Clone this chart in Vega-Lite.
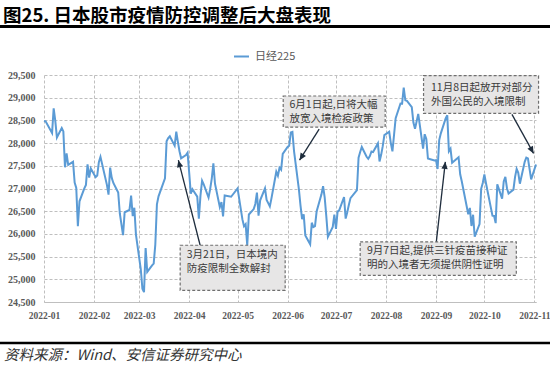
{
  "$schema": "https://vega.github.io/schema/vega-lite/v6.json",
  "width": 492,
  "height": 227,
  "autosize": {"type": "none"},
  "padding": {"left": 44, "top": 75, "right": 14, "bottom": 67},
  "background": "white",
  "title": {
    "text": "图25. 日本股市疫情防控调整后大盘表现",
    "anchor": "start",
    "frame": "group",
    "font": "Noto Sans CJK SC",
    "fontSize": 18.5,
    "fontWeight": "bold",
    "color": "#000000",
    "dx": -41,
    "offset": -1
  },
  "config": {
    "view": {"stroke": null},
    "axis": {
      "gridColor": "#bfbfbf",
      "gridDash": [3, 2],
      "gridWidth": 1,
      "labelColor": "#595959",
      "labelFont": "Liberation Serif",
      "labelFontWeight": "bold",
      "ticks": false
    }
  },
  "datasets": {
    "nikkei": [
      {"x": "2022-01-06", "y": 28487.87}, {"x": "2022-01-07", "y": 28478.56}, {"x": "2022-01-11", "y": 28222.48}, {"x": "2022-01-12", "y": 28765.66}, {"x": "2022-01-13", "y": 28489.13}, {"x": "2022-01-14", "y": 28124.28}, {"x": "2022-01-17", "y": 28333.52}, {"x": "2022-01-18", "y": 28257.25}, {"x": "2022-01-19", "y": 27467.23}, {"x": "2022-01-20", "y": 27772.93}, {"x": "2022-01-21", "y": 27522.26}, {"x": "2022-01-24", "y": 27588.37}, {"x": "2022-01-25", "y": 27131.34}, {"x": "2022-01-26", "y": 27011.33}, {"x": "2022-01-27", "y": 26170.30}, {"x": "2022-01-28", "y": 26717.34}, {"x": "2022-01-31", "y": 27001.98},
      {"x": "2022-02-01", "y": 27078.48}, {"x": "2022-02-02", "y": 27533.60}, {"x": "2022-02-03", "y": 27241.31}, {"x": "2022-02-04", "y": 27439.99}, {"x": "2022-02-07", "y": 27248.87}, {"x": "2022-02-08", "y": 27284.52}, {"x": "2022-02-09", "y": 27579.87}, {"x": "2022-02-10", "y": 27696.08}, {"x": "2022-02-14", "y": 27079.59}, {"x": "2022-02-15", "y": 26865.19}, {"x": "2022-02-16", "y": 27460.40}, {"x": "2022-02-17", "y": 27232.87}, {"x": "2022-02-18", "y": 27122.07}, {"x": "2022-02-21", "y": 26910.87}, {"x": "2022-02-22", "y": 26449.61}, {"x": "2022-02-24", "y": 25970.82}, {"x": "2022-02-25", "y": 26476.50}, {"x": "2022-02-28", "y": 26526.82},
      {"x": "2022-03-01", "y": 26844.72}, {"x": "2022-03-02", "y": 26393.03}, {"x": "2022-03-03", "y": 26577.27}, {"x": "2022-03-04", "y": 25985.47}, {"x": "2022-03-07", "y": 25221.41}, {"x": "2022-03-08", "y": 24790.95}, {"x": "2022-03-09", "y": 24717.53}, {"x": "2022-03-10", "y": 25690.40}, {"x": "2022-03-11", "y": 25162.78}, {"x": "2022-03-14", "y": 25307.85}, {"x": "2022-03-15", "y": 25346.48}, {"x": "2022-03-16", "y": 25762.01}, {"x": "2022-03-17", "y": 26652.89}, {"x": "2022-03-18", "y": 26827.43}, {"x": "2022-03-22", "y": 27224.11}, {"x": "2022-03-23", "y": 28040.16}, {"x": "2022-03-24", "y": 28110.39}, {"x": "2022-03-25", "y": 28149.84}, {"x": "2022-03-28", "y": 27943.89}, {"x": "2022-03-29", "y": 28252.42}, {"x": "2022-03-30", "y": 28027.25}, {"x": "2022-03-31", "y": 27821.43},
      {"x": "2022-04-01", "y": 27665.98}, {"x": "2022-04-04", "y": 27736.47}, {"x": "2022-04-05", "y": 27787.98}, {"x": "2022-04-06", "y": 27350.30}, {"x": "2022-04-07", "y": 26888.57}, {"x": "2022-04-08", "y": 26985.80}, {"x": "2022-04-11", "y": 26821.52}, {"x": "2022-04-12", "y": 26334.98}, {"x": "2022-04-13", "y": 26843.49}, {"x": "2022-04-14", "y": 27172.00}, {"x": "2022-04-15", "y": 27093.19}, {"x": "2022-04-18", "y": 26799.71}, {"x": "2022-04-19", "y": 26985.09}, {"x": "2022-04-20", "y": 27217.85}, {"x": "2022-04-21", "y": 27553.06}, {"x": "2022-04-22", "y": 27105.26}, {"x": "2022-04-25", "y": 26590.78}, {"x": "2022-04-26", "y": 26700.11}, {"x": "2022-04-27", "y": 26386.63}, {"x": "2022-04-28", "y": 26847.90},
      {"x": "2022-05-02", "y": 26818.53}, {"x": "2022-05-06", "y": 27003.56}, {"x": "2022-05-09", "y": 26319.34}, {"x": "2022-05-10", "y": 26167.10}, {"x": "2022-05-11", "y": 26213.64}, {"x": "2022-05-12", "y": 25748.72}, {"x": "2022-05-13", "y": 26427.65}, {"x": "2022-05-16", "y": 26547.05}, {"x": "2022-05-17", "y": 26659.75}, {"x": "2022-05-18", "y": 26911.20}, {"x": "2022-05-19", "y": 26402.84}, {"x": "2022-05-20", "y": 26739.03}, {"x": "2022-05-23", "y": 27001.52}, {"x": "2022-05-24", "y": 26748.14}, {"x": "2022-05-25", "y": 26677.80}, {"x": "2022-05-26", "y": 26604.84}, {"x": "2022-05-27", "y": 26781.68}, {"x": "2022-05-30", "y": 27369.43}, {"x": "2022-05-31", "y": 27279.80},
      {"x": "2022-06-01", "y": 27457.89}, {"x": "2022-06-02", "y": 27413.88}, {"x": "2022-06-03", "y": 27761.57}, {"x": "2022-06-06", "y": 27915.89}, {"x": "2022-06-07", "y": 27943.95}, {"x": "2022-06-08", "y": 28234.29}, {"x": "2022-06-09", "y": 28246.53}, {"x": "2022-06-10", "y": 27824.29}, {"x": "2022-06-13", "y": 26987.44}, {"x": "2022-06-14", "y": 26629.86}, {"x": "2022-06-15", "y": 26326.16}, {"x": "2022-06-16", "y": 26431.20}, {"x": "2022-06-17", "y": 25963.00}, {"x": "2022-06-20", "y": 25771.22}, {"x": "2022-06-21", "y": 26246.31}, {"x": "2022-06-22", "y": 26149.55}, {"x": "2022-06-23", "y": 26171.25}, {"x": "2022-06-24", "y": 26491.97}, {"x": "2022-06-27", "y": 26871.27}, {"x": "2022-06-28", "y": 27049.47}, {"x": "2022-06-29", "y": 26804.60}, {"x": "2022-06-30", "y": 26393.04},
      {"x": "2022-07-01", "y": 25935.62}, {"x": "2022-07-04", "y": 26153.81}, {"x": "2022-07-05", "y": 26423.47}, {"x": "2022-07-06", "y": 26107.65}, {"x": "2022-07-07", "y": 26490.53}, {"x": "2022-07-08", "y": 26517.19}, {"x": "2022-07-11", "y": 26812.30}, {"x": "2022-07-12", "y": 26336.66}, {"x": "2022-07-13", "y": 26478.77}, {"x": "2022-07-14", "y": 26643.39}, {"x": "2022-07-15", "y": 26788.47}, {"x": "2022-07-19", "y": 26961.68}, {"x": "2022-07-20", "y": 27680.26}, {"x": "2022-07-21", "y": 27803.00}, {"x": "2022-07-22", "y": 27914.66}, {"x": "2022-07-25", "y": 27699.25}, {"x": "2022-07-26", "y": 27655.21}, {"x": "2022-07-27", "y": 27715.75}, {"x": "2022-07-28", "y": 27815.48}, {"x": "2022-07-29", "y": 27801.64},
      {"x": "2022-08-01", "y": 27993.35}, {"x": "2022-08-02", "y": 27594.73}, {"x": "2022-08-03", "y": 27741.90}, {"x": "2022-08-04", "y": 27932.20}, {"x": "2022-08-05", "y": 28175.87}, {"x": "2022-08-08", "y": 28249.24}, {"x": "2022-08-09", "y": 27999.96}, {"x": "2022-08-10", "y": 27819.33}, {"x": "2022-08-12", "y": 28546.98}, {"x": "2022-08-15", "y": 28871.78}, {"x": "2022-08-16", "y": 28868.91}, {"x": "2022-08-17", "y": 29222.77}, {"x": "2022-08-18", "y": 28942.14}, {"x": "2022-08-19", "y": 28930.33}, {"x": "2022-08-22", "y": 28794.50}, {"x": "2022-08-23", "y": 28452.75}, {"x": "2022-08-24", "y": 28313.47}, {"x": "2022-08-25", "y": 28479.01}, {"x": "2022-08-26", "y": 28641.38}, {"x": "2022-08-29", "y": 27878.96}, {"x": "2022-08-30", "y": 28195.58}, {"x": "2022-08-31", "y": 28091.53},
      {"x": "2022-09-01", "y": 27661.47}, {"x": "2022-09-02", "y": 27650.84}, {"x": "2022-09-05", "y": 27619.61}, {"x": "2022-09-06", "y": 27626.51}, {"x": "2022-09-07", "y": 27430.30}, {"x": "2022-09-08", "y": 28065.28}, {"x": "2022-09-09", "y": 28214.75}, {"x": "2022-09-12", "y": 28542.11}, {"x": "2022-09-13", "y": 28614.63}, {"x": "2022-09-14", "y": 27818.62}, {"x": "2022-09-15", "y": 27875.91}, {"x": "2022-09-16", "y": 27567.65}, {"x": "2022-09-20", "y": 27688.42}, {"x": "2022-09-21", "y": 27313.13}, {"x": "2022-09-22", "y": 27153.83}, {"x": "2022-09-26", "y": 26431.55}, {"x": "2022-09-27", "y": 26571.87}, {"x": "2022-09-28", "y": 26173.98}, {"x": "2022-09-29", "y": 26422.05}, {"x": "2022-09-30", "y": 25937.21},
      {"x": "2022-10-03", "y": 26215.79}, {"x": "2022-10-04", "y": 26992.21}, {"x": "2022-10-05", "y": 27120.53}, {"x": "2022-10-06", "y": 27311.30}, {"x": "2022-10-07", "y": 27116.11}, {"x": "2022-10-11", "y": 26401.25}, {"x": "2022-10-12", "y": 26396.83}, {"x": "2022-10-13", "y": 26237.42}, {"x": "2022-10-14", "y": 27090.76}, {"x": "2022-10-17", "y": 26775.79}, {"x": "2022-10-18", "y": 27156.14}, {"x": "2022-10-19", "y": 27257.38}, {"x": "2022-10-20", "y": 27006.96}, {"x": "2022-10-21", "y": 26890.58}, {"x": "2022-10-24", "y": 26974.90}, {"x": "2022-10-25", "y": 27250.28}, {"x": "2022-10-26", "y": 27431.84}, {"x": "2022-10-27", "y": 27345.24}, {"x": "2022-10-28", "y": 27105.20}, {"x": "2022-10-31", "y": 27587.46},
      {"x": "2022-11-01", "y": 27678.92}, {"x": "2022-11-02", "y": 27663.39}, {"x": "2022-11-04", "y": 27199.74}, {"x": "2022-11-07", "y": 27527.64}
    ],
    "boxes": [
      {"id": 1, "x": "2022-03-31T10:00", "x2": "2022-06-04T12:00", "y": 25750, "y2": 24757},
      {"id": 2, "x": "2022-06-03T07:00", "x2": "2022-08-05T12:00", "y": 29037, "y2": 28353},
      {"id": 3, "x": "2022-07-21T00:00", "x2": "2022-10-25T19:00", "y": 25823, "y2": 25088},
      {"id": 4, "x": "2022-08-29T07:00", "x2": "2022-11-08T14:00", "y": 29485, "y2": 28655}
    ],
    "notes": [
      {"x": "2022-04-04T12:00", "y": 25699, "t": "3月21日，日本境内\n防疫限制全数解封"},
      {"x": "2022-06-07T05:00", "y": 28993, "t": "6月1日起,日将大幅\n放宽入境检疫政策"},
      {"x": "2022-07-25T05:00", "y": 25778, "t": "9月7日起,提供三针疫苗接种证\n明的入境者无须提供阴性证明"},
      {"x": "2022-09-02T22:00", "y": 29374, "t": "11月8日起放开对部分\n外国公民的入境限制"}
    ],
    "arrows": [
      {"id": 1, "x": "2022-03-30T07:00", "y": 27625, "x2": "2022-04-12T19:00", "y2": 25750},
      {"id": 2, "x": "2022-06-13T10:00", "y": 27625, "x2": "2022-06-25T14:00", "y2": 28309},
      {"id": 3, "x": "2022-09-11T19:00", "y": 27587, "x2": "2022-09-06T05:00", "y2": 25823},
      {"id": 4, "x": "2022-11-05T12:00", "y": 27773, "x2": "2022-10-23T02:00", "y2": 28633}
    ]
  },
  "encoding": {
    "x": {
      "field": "x",
      "type": "temporal",
      "scale": {"domain": [{"year": 2022, "month": 1, "date": 6}, {"year": 2022, "month": 11, "date": 7}], "nice": false},
      "axis": {
        "values": [
          {"year": 2022, "month": 1, "date": 6}, {"year": 2022, "month": 2, "date": 6}, {"year": 2022, "month": 3, "date": 6},
          {"year": 2022, "month": 4, "date": 6}, {"year": 2022, "month": 5, "date": 6}, {"year": 2022, "month": 6, "date": 6},
          {"year": 2022, "month": 7, "date": 6}, {"year": 2022, "month": 8, "date": 6}, {"year": 2022, "month": 9, "date": 6},
          {"year": 2022, "month": 10, "date": 6}, {"year": 2022, "month": 11, "date": 6}
        ],
        "format": "%Y-%m",
        "labelFontSize": 9.5,
        "labelPadding": 8,
        "labelFlush": false,
        "labelOverlap": false,
        "domain": true,
        "domainColor": "#bfbfbf",
        "title": "资料来源：Wind、安信证券研究中心",
        "titleX": -40.5,
        "titleY": 53,
        "titleAlign": "left",
        "titleAnchor": "start",
        "titleBaseline": "middle",
        "titleFont": "Noto Sans CJK SC",
        "titleFontSize": 14.5,
        "titleFontStyle": "italic",
        "titleFontWeight": "normal",
        "titleColor": "#333333"
      }
    },
    "y": {
      "field": "y",
      "type": "quantitative",
      "scale": {"domain": [24500, 29500], "nice": false, "zero": false},
      "axis": {
        "values": [24500, 25000, 25500, 26000, 26500, 27000, 27500, 28000, 28500, 29000, 29500],
        "format": ",",
        "labelExpr": "format(datum.value, ',')",
        "labelFontSize": 10,
        "labelPadding": 9,
        "domain": false,
        "title": null
      }
    }
  },
  "layer": [
    {
      "data": {"values": [{"x": "2021-12-01", "x2": "2022-11-30", "y": 30570}], "format": {"parse": {"x": "date", "x2": "date"}}},
      "mark": {"type": "rule", "color": "#000000", "strokeWidth": 3, "clip": false},
      "encoding": {"x2": {"field": "x2"}, "y2": {"field": "y"}}
    },
    {
      "data": {"values": [{"x": "2021-12-01", "x2": "2022-11-30", "y": 23599}], "format": {"parse": {"x": "date", "x2": "date"}}},
      "mark": {"type": "rule", "color": "#000000", "strokeWidth": 2.5, "clip": false},
      "encoding": {"x2": {"field": "x2"}, "y2": {"field": "y"}}
    },
    {
      "data": {"name": "nikkei"},
      "mark": {"type": "line", "strokeWidth": 2, "clip": false},
      "encoding": {
        "color": {
          "datum": "日经225",
          "type": "nominal",
          "scale": {"range": ["#5b9bd5"]},
          "legend": {
            "orient": "none",
            "legendX": 189,
            "legendY": -27,
            "title": null,
            "symbolType": "stroke",
            "symbolSize": 225,
            "symbolStrokeWidth": 2,
            "labelFont": "Noto Sans CJK SC",
            "labelFontSize": 11,
            "labelColor": "#595959",
            "labelOffset": 5
          }
        }
      }
    },
    {
      "data": {"name": "arrows"},
      "mark": {"type": "rule", "color": "#1f2d3d", "strokeWidth": 1.3, "clip": false},
      "encoding": {"x2": {"field": "x2"}, "y2": {"field": "y2"}}
    },
    {
      "data": {"name": "boxes"},
      "mark": {"type": "rect", "fill": "#e7e6e6", "stroke": "#6f6f6f", "strokeWidth": 1.2, "strokeDash": [3, 2], "clip": false},
      "encoding": {"x2": {"field": "x2"}, "y2": {"field": "y2"}}
    },
    {
      "data": {"name": "notes"},
      "mark": {"type": "text", "align": "left", "baseline": "line-top", "lineBreak": "\n", "lineHeight": 14, "font": "Noto Sans CJK SC", "fontSize": 10.5, "color": "#3a3a3a", "clip": false},
      "encoding": {"text": {"field": "t"}}
    },
    {
      "data": {"name": "arrows"},
      "transform": [{"filter": "datum.id == 1"}],
      "mark": {"type": "point", "shape": "M0,0L-0.45,1L0.45,1Z", "filled": true, "size": 196, "color": "#1f2d3d", "opacity": 1, "angle": 345.7, "clip": false}
    },
    {
      "data": {"name": "arrows"},
      "transform": [{"filter": "datum.id == 2"}],
      "mark": {"type": "point", "shape": "M0,0L-0.45,1L0.45,1Z", "filled": true, "size": 196, "color": "#1f2d3d", "opacity": 1, "angle": 212.4, "clip": false}
    },
    {
      "data": {"name": "arrows"},
      "transform": [{"filter": "datum.id == 3"}],
      "mark": {"type": "point", "shape": "M0,0L-0.45,1L0.45,1Z", "filled": true, "size": 196, "color": "#1f2d3d", "opacity": 1, "angle": 6.4, "clip": false}
    },
    {
      "data": {"name": "arrows"},
      "transform": [{"filter": "datum.id == 4"}],
      "mark": {"type": "point", "shape": "M0,0L-0.45,1L0.45,1Z", "filled": true, "size": 196, "color": "#1f2d3d", "opacity": 1, "angle": 151, "clip": false}
    }
  ]
}
